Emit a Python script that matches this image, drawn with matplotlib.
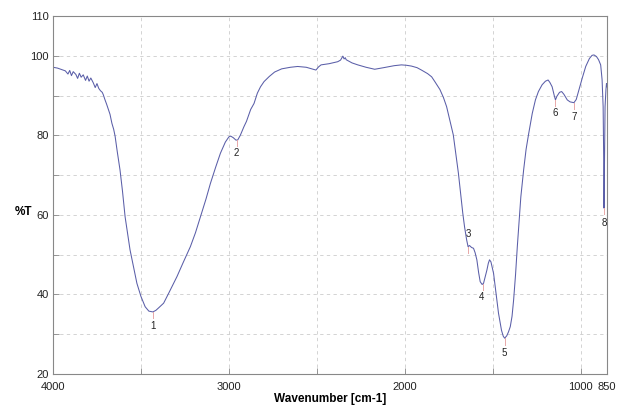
"""
FT-IR transmittance spectrum with numbered absorption bands.
"""

import matplotlib
matplotlib.use("Agg")
import matplotlib.pyplot as plt

# spectrum: wavenumber [cm-1] and %T
wavenumber = [
    4000, 3975, 3950, 3930, 3915, 3905, 3895, 3885, 3870, 3860, 3850, 3840, 3828,
    3815, 3805, 3795, 3785, 3771, 3760, 3750, 3740, 3730, 3720, 3714, 3705, 3695,
    3685, 3676, 3665, 3655, 3647, 3635, 3619, 3605, 3590, 3575, 3562, 3540, 3523,
    3500, 3476, 3455, 3432, 3415, 3400, 3371, 3340, 3295, 3260, 3219, 3190, 3162,
    3130, 3105, 3075, 3048, 3020, 3000, 2990, 2975, 2960, 2950, 2935, 2914, 2900,
    2876, 2857, 2838, 2820, 2800, 2770, 2740, 2700, 2650, 2609, 2560, 2520, 2505,
    2490, 2476, 2430, 2381, 2365, 2352, 2345, 2338, 2333, 2300, 2267, 2220, 2171,
    2120, 2060, 2019, 1990, 1962, 1930, 1905, 1870, 1847, 1829, 1800, 1780, 1762,
    1745, 1724, 1710, 1695, 1680, 1670, 1660, 1648, 1640, 1632, 1620, 1609, 1600,
    1590, 1580, 1571, 1560, 1552, 1545, 1533, 1525, 1518, 1510, 1495, 1480, 1467,
    1450, 1440, 1432, 1420, 1410, 1400, 1390, 1381, 1370, 1360, 1352, 1340, 1324,
    1310, 1295, 1275, 1257, 1240, 1219, 1200, 1185, 1175, 1162, 1150, 1143, 1135,
    1120, 1108, 1095, 1076, 1060, 1038, 1025, 1010, 990, 971, 950, 935, 924, 910,
    898, 886, 878, 872, 869, 867, 865, 863, 861, 856, 853, 850,
]
transmittance = [
    97.1, 96.9, 96.5, 96.2, 95.4, 96.3, 95.0, 96.0, 95.3, 94.3, 95.6, 94.6, 95.2,
    93.8, 94.9, 93.6, 94.4, 93.2, 92.0, 93.0, 91.8, 91.2, 90.8, 90.2, 89.0, 87.8,
    86.5, 85.3, 83.0, 81.5, 79.8, 76.0, 71.3, 66.0, 59.5, 55.0, 51.2, 46.5, 42.8,
    39.5, 36.9, 35.8, 35.6, 36.0, 36.6, 37.8, 40.5, 44.5, 48.0, 52.0, 55.5, 59.5,
    64.0, 67.9, 72.0, 75.5, 78.3, 79.6, 79.8, 79.4, 78.8, 78.8, 80.0, 82.2, 83.5,
    86.5, 88.0, 90.6, 92.2, 93.5, 94.8, 95.9, 96.7, 97.1, 97.3, 97.1, 96.6, 96.4,
    97.2, 97.7, 98.0, 98.5, 98.9, 99.9, 99.2, 99.5, 99.0, 98.2, 97.7, 97.1, 96.6,
    97.0, 97.5, 97.7, 97.6, 97.4, 97.0, 96.4, 95.5, 94.7, 93.5, 91.5, 89.5, 87.2,
    84.0, 80.1, 75.5, 70.5, 64.5, 60.4, 57.0, 53.7, 52.0, 52.3, 51.8, 51.6, 50.5,
    48.7, 45.5, 43.2, 42.5, 42.8, 44.0, 46.1, 47.8, 48.7, 48.2, 45.3, 40.0, 35.3,
    31.0, 29.5, 29.0, 29.6, 30.6, 31.9, 34.5, 38.6, 45.0, 52.0, 57.0, 64.5, 71.3,
    76.5, 80.5, 85.5, 88.9, 91.0, 92.7, 93.6, 93.9, 93.3, 92.2, 90.0, 88.9, 89.8,
    90.8, 91.0, 90.3, 88.9, 88.4, 88.2, 89.0, 91.4, 94.5, 97.3, 99.3, 100.1, 100.2, 99.8,
    99.0, 97.7, 94.0, 87.2, 75.0, 61.7, 70.0, 80.0, 87.2, 91.5, 93.0, 92.2,
]

# numbered bands: picked point and where the number is written
band_labels = ["1", "2", "3", "4", "5", "6", "7", "8"]
band_wn = [3432, 2955, 1640, 1555, 1432, 1143, 1038, 867]
band_t = [35.6, 78.8, 52.0, 42.6, 29.0, 88.9, 88.2, 61.7]
label_wn = [3430, 2960, 1636, 1562, 1432, 1146, 1038, 863]
label_t = [32.1, 75.5, 55.2, 39.4, 25.2, 85.5, 84.7, 58.0]

x_ticks = [4000, 3500, 3000, 2500, 2000, 1500, 1000, 850]
x_tick_labels = ["4000", "", "3000", "", "2000", "", "1000", "850"]
y_ticks = [20, 30, 40, 50, 60, 70, 80, 90, 100, 110]
y_tick_labels = ["20", "", "40", "", "60", "", "80", "", "100", "110"]


def main() -> None:
    plt.rcParams["font.family"] = ["Liberation Sans", "DejaVu Sans"]
    fig = plt.figure(figsize=(6.17, 4.09), dpi=100)
    ax = fig.add_axes([0.0859, 0.0856, 0.8979, 0.8754])

    ax.plot(wavenumber, transmittance, color="#5a5ea8", lw=0.75)

    for text, wn, t, lx, ly in zip(band_labels, band_wn, band_t, label_wn, label_t):
        ax.plot([wn, wn], [t, t - 1.6], color="#e8a8a8", lw=0.7)
        ax.text(lx, ly, text, fontsize=7, ha="center", va="center", color="#222222")

    ax.set_xlim(4000, 850)
    ax.set_ylim(20, 110)
    ax.set_xticks(x_ticks)
    ax.set_xticklabels(x_tick_labels)
    ax.set_yticks(y_ticks)
    ax.set_yticklabels(y_tick_labels)
    ax.tick_params(direction="in", length=4, width=0.6, color="#888888",
                   labelsize=8, labelcolor="#222222", pad=3)
    ax.tick_params(axis="x", pad=6)
    ax.grid(True, ls=(0, (4, 4)), color="#cccccc", lw=0.6)
    for spine in ax.spines.values():
        spine.set_color("#888888")
        spine.set_linewidth(0.8)

    ax.set_xlabel("Wavenumber [cm-1]", fontsize=8.5, fontweight="bold")
    ax.xaxis.set_label_coords(0.50, -0.053)
    ax.set_ylabel("%T", fontsize=8.5, fontweight="bold", rotation=0)
    ax.yaxis.set_label_coords(-0.054, 0.436)

    fig.savefig("out.png", dpi=100)


if __name__ == "__main__":
    main()
